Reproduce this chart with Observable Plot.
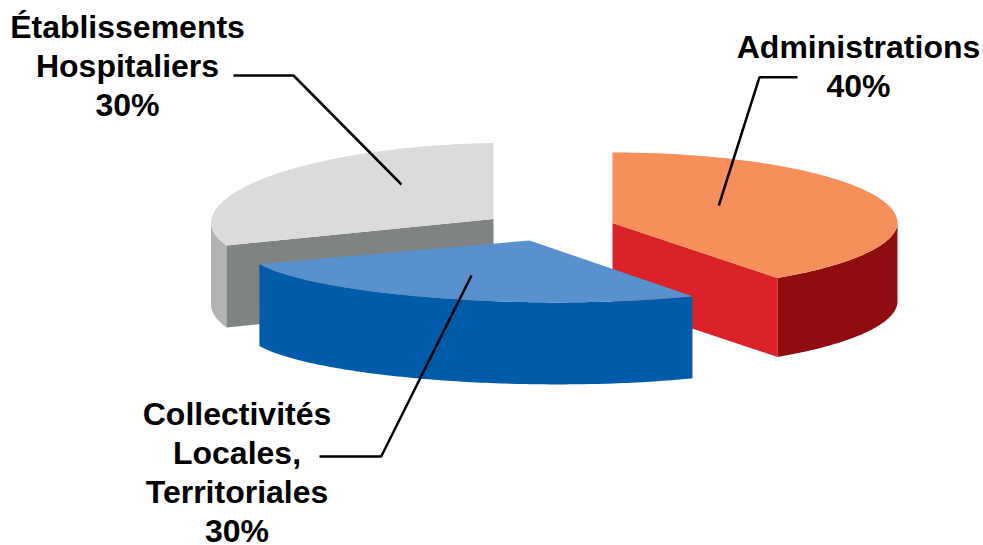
<!DOCTYPE html>
<html lang="fr">
<head>
<meta charset="utf-8">
<title>Répartition par secteur</title>
<style>
  html, body { margin: 0; padding: 0; background: #fff; overflow: hidden; }
  svg { display: block; }
</style>
<script src="https://cdn.jsdelivr.net/npm/d3@7"></script>
<script src="https://cdn.jsdelivr.net/npm/@observablehq/plot@0.6"></script>
</head>
<body>
<script>
// Sector shares of the pie, clockwise from twelve o'clock.
const sectors = ["Administrations", "Collectivités Locales, Territoriales", "Établissements Hospitaliers"];
const shares = [40, 30, 30];
const labelLines = [
  "Administrations\n40%",
  "Collectivités\nLocales,\nTerritoriales\n30%",
  "Établissements\nHospitaliers\n30%"
];

// Colours of each wedge: top face, cut face, outer wall.
const topColors = ["#F78F5B", "#5891CD", "#DBDBDB"];
const cutColors = ["#DB2228", "#004F9A", "#808383"];
const wallColors = ["#8F0D0F", "#005BAB", "#B0B2B4"];

// Pixel geometry of each exploded wedge in the tilted view.
const wedgeViews = [
  {ax: 612, ay: 222.5, rx: 285, frontSkew: -3.2, backRy: 70.5, frontRy: 68, lift: 0, shear: 0, depth: 79},
  {ax: 529, ay: 240, rx: 282.7, frontSkew: -4, backRy: 47.6, frontRy: 47.6, lift: 14, shear: 5.5, depth: 82},
  {ax: 493, ay: 218.5, rx: 282.5, frontSkew: 5.5, backRy: 76, frontRy: 72, lift: 0, shear: -4.5, depth: 82}
];

// Text anchors and leader paths of the callouts.
const labelAnchors = [[858, 96.5], [236.5, 541], [127, 115]];
const leaderPaths = [
  [[797, 76.7], [759, 76.7], [718.3, 205]],
  [[319, 456], [380.7, 456], [471, 275]],
  [[233, 75], [293, 75], [401, 184]]
];

const fontSize = 32;
const lineHeight = 39 / fontSize;

// Angles come straight from the shares, running clockwise from the top.
const arcs = d3.pie().sort(null)(shares);

function projectRim(view, theta) {
  const u = Math.sin(theta);
  const v = -Math.cos(theta);
  return {
    x: view.ax + view.rx * u + view.frontSkew * Math.max(v, 0),
    y: view.ay + view.lift + (v < 0 ? view.backRy : view.frontRy) * v + view.shear * u
  };
}

function rimPoints(view, start, end) {
  const steps = Math.max(2, Math.ceil((end - start) / (Math.PI / 180)));
  return d3.range(steps + 1).map((i) => projectRim(view, start + ((end - start) * i) / steps));
}

// Build the polygons of one wedge, in back-to-front paint order.
function wedgeFaces(index) {
  const view = wedgeViews[index];
  const {startAngle: start, endAngle: end} = arcs[index];
  const apex = {x: view.ax, y: view.ay};
  const lower = (p) => ({x: p.x, y: p.y + view.depth});
  const faces = [];

  // Outer wall: only the part of the rim turned toward the viewer.
  const wallStart = Math.max(start, Math.PI / 2);
  const wallEnd = Math.min(end, (3 * Math.PI) / 2);
  if (wallEnd > wallStart) {
    const rim = rimPoints(view, wallStart, wallEnd);
    faces.push({fill: wallColors[index], points: [...rim, ...rim.slice().reverse().map(lower)]});
  }

  // Cut faces: drawn when the radial edge looks toward the viewer.
  for (const [edge, normal] of [[start, start - Math.PI / 2], [end, end + Math.PI / 2]]) {
    if (-Math.cos(normal) > 1e-6) {
      const p = projectRim(view, edge);
      faces.push({fill: cutColors[index], points: [apex, p, lower(p), lower(apex)]});
    }
  }

  // Top face.
  faces.push({fill: topColors[index], points: [apex, ...rimPoints(view, start, end)]});
  return faces.map((f, k) => ({...f, id: `${sectors[index]}-${k}`}));
}

// Paint order: far wedge, right wedge, then the front wedge on top.
const paintOrder = [2, 0, 1];
const vertices = paintOrder.flatMap(wedgeFaces).flatMap((face) =>
  face.points.map((p) => ({x: p.x, y: p.y, id: face.id, fill: face.fill}))
);

const leaders = leaderPaths.flatMap((path, i) => path.map(([x, y]) => ({x, y, i})));
const labels = labelLines.map((text, i) => ({text, x: labelAnchors[i][0], y: labelAnchors[i][1]}));

const chart = Plot.plot({
  width: 983,
  height: 545,
  margin: 0,
  style: {background: "#fff"},
  x: {domain: [0, 983], range: [0, 983], axis: null},
  y: {domain: [0, 545], range: [0, 545], axis: null},
  color: {type: "identity"},
  marks: [
    Plot.line(vertices, {x: "x", y: "y", z: "id", fill: "fill", stroke: "none", curve: "linear"}),
    Plot.line(leaders, {
      x: "x", y: "y", z: "i",
      stroke: "#000", strokeWidth: 2.5, strokeLinejoin: "miter", strokeLinecap: "butt"
    }),
    Plot.text(labels, {
      x: "x", y: "y", text: "text",
      textAnchor: "middle", lineAnchor: "bottom", lineHeight,
      fontFamily: "'Liberation Sans', Arial, sans-serif",
      fontWeight: "bold", fontSize, fill: "#000"
    })
  ]
});
document.body.appendChild(chart);
</script>
</body>
</html>
